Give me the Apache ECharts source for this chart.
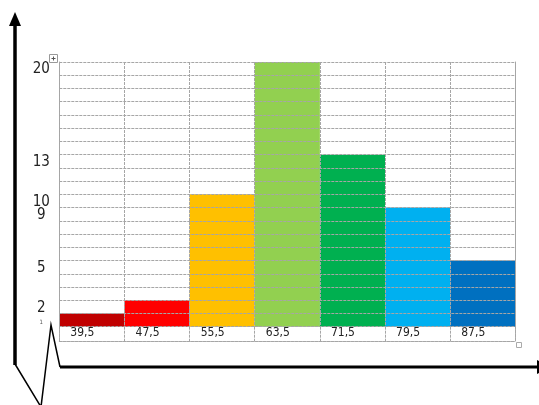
<!DOCTYPE html>
<html><head><meta charset="utf-8">
<script src="https://cdn.jsdelivr.net/npm/echarts@6/dist/echarts.min.js"></script>
<style>html,body{margin:0;padding:0;background:#fff}#c{width:539px;height:405px}</style>
</head><body><div id="c"></div>
<script>
// ---- data ----
const categories = ['39,5', '47,5', '55,5', '63,5', '71,5', '79,5', '87,5'];
const frequencies = [1, 2, 10, 20, 13, 9, 5];
const yTickLabels = [1, 2, 5, 9, 10, 13, 20];

// ---- style ----
const barColors = ['#C00000', '#FF0000', '#FFC000', '#92D050', '#00B050', '#00B0F0', '#0070C0'];
const FONT = "'Liberation Sans Narrow','DejaVu Sans Condensed','Roboto',sans-serif";
const GRID_LINE = { color: '#a6a6a6', width: 1, type: [3, 1] };

const chart = echarts.init(document.getElementById('c'), null, { renderer: 'canvas' });
const L = 59.3, R = 539 - 515.3, T = 62, B = 405 - 326.7;

const option = {
  animation: false,
  backgroundColor: '#fff',
  grid: [
    { left: L, right: R, top: T, bottom: B },
    { left: L, right: R, top: 326.7, height: 14.3 }
  ],
  xAxis: [
    {
      type: 'category', gridIndex: 0, data: categories,
      axisLine: { show: false }, axisTick: { show: false }, axisLabel: { show: false },
      splitLine: { show: true, lineStyle: GRID_LINE }, z: 5
    },
    {
      type: 'category', gridIndex: 1, data: categories,
      axisLine: { show: true, lineStyle: GRID_LINE }, axisTick: { show: false },
      splitLine: { show: true, lineStyle: GRID_LINE },
      axisLabel: {
        inside: true, margin: 2, interval: 0,
        color: '#222', fontFamily: FONT, fontSize: 12,
        formatter: v => '{a|' + v + '}',
        rich: { a: { width: 54, padding: [0, 0, 0, 11], align: 'left', fontFamily: FONT, fontSize: 12, color: '#222' } }
      }
    }
  ],
  yAxis: [
    {
      type: 'value', gridIndex: 0, min: 0, max: 20, interval: 1,
      axisLine: { show: true, lineStyle: GRID_LINE }, axisTick: { show: false },
      splitLine: { show: true, lineStyle: GRID_LINE },
      axisLabel: {
        show: true, align: 'center', verticalAlign: 'top', margin: 18,
        fontFamily: FONT, fontSize: 15, color: '#222',
        formatter: v => yTickLabels.includes(v) ? (v === 1 ? '{s|' + v + '}' : String(v)) : '',
        rich: { s: { fontSize: 6, fontFamily: FONT, color: '#555', padding: [6, 0, 0, 0] } }
      },
      z: 5
    },
    {
      type: 'value', gridIndex: 0, position: 'right', min: 0, max: 20, interval: 1,
      axisLine: { show: true, lineStyle: GRID_LINE }, axisTick: { show: false },
      axisLabel: { show: false }, splitLine: { show: false }, z: 5
    },
    {
      type: 'value', gridIndex: 1, min: 0, max: 1, interval: 1,
      axisLine: { show: true, lineStyle: GRID_LINE }, axisTick: { show: false },
      axisLabel: { show: false }, splitLine: { show: true, lineStyle: GRID_LINE }
    },
    {
      type: 'value', gridIndex: 1, position: 'right', min: 0, max: 1, interval: 1,
      axisLine: { show: true, lineStyle: GRID_LINE }, axisTick: { show: false },
      axisLabel: { show: false }, splitLine: { show: false }
    }
  ],
  series: [{
    type: 'bar', xAxisIndex: 0, yAxisIndex: 0,
    barCategoryGap: '0%', z: 1,
    data: frequencies.map((v, i) => ({ value: v, itemStyle: { color: barColors[i] } }))
  }],
  graphic: [
    { type: 'line', z: 100, shape: { x1: 15, y1: 365, x2: 15, y2: 24 }, style: { stroke: '#000', lineWidth: 3.5 } },
    { type: 'polygon', z: 100, shape: { points: [[9, 26], [21, 26], [15, 12]] }, style: { fill: '#000' } },
    { type: 'polyline', z: 100, shape: { points: [[15, 364], [41, 407], [51, 325], [60, 367]] }, style: { stroke: '#000', lineWidth: 1.5, fill: null } },
    { type: 'line', z: 100, shape: { x1: 60, y1: 367, x2: 538, y2: 367 }, style: { stroke: '#000', lineWidth: 3 } },
    { type: 'polygon', z: 100, shape: { points: [[537, 360], [537, 374], [551, 367]] }, style: { fill: '#000' } },
    { type: 'group', x: 49.5, y: 54.5, z: 100, children: [
      { type: 'rect', shape: { x: 0, y: 0, width: 8, height: 8 }, style: { stroke: '#999', fill: '#fff', lineWidth: 1 } },
      { type: 'line', shape: { x1: 2, y1: 4, x2: 6, y2: 4 }, style: { stroke: '#555', lineWidth: 1 } },
      { type: 'line', shape: { x1: 4, y1: 2, x2: 4, y2: 6 }, style: { stroke: '#555', lineWidth: 1 } }
    ] },
    { type: 'rect', z: 100, shape: { x: 516.5, y: 342.5, width: 5, height: 5 }, style: { stroke: '#aaa', fill: '#fff', lineWidth: 1 } }
  ]
};
chart.setOption(option);
</script>
</body></html>
